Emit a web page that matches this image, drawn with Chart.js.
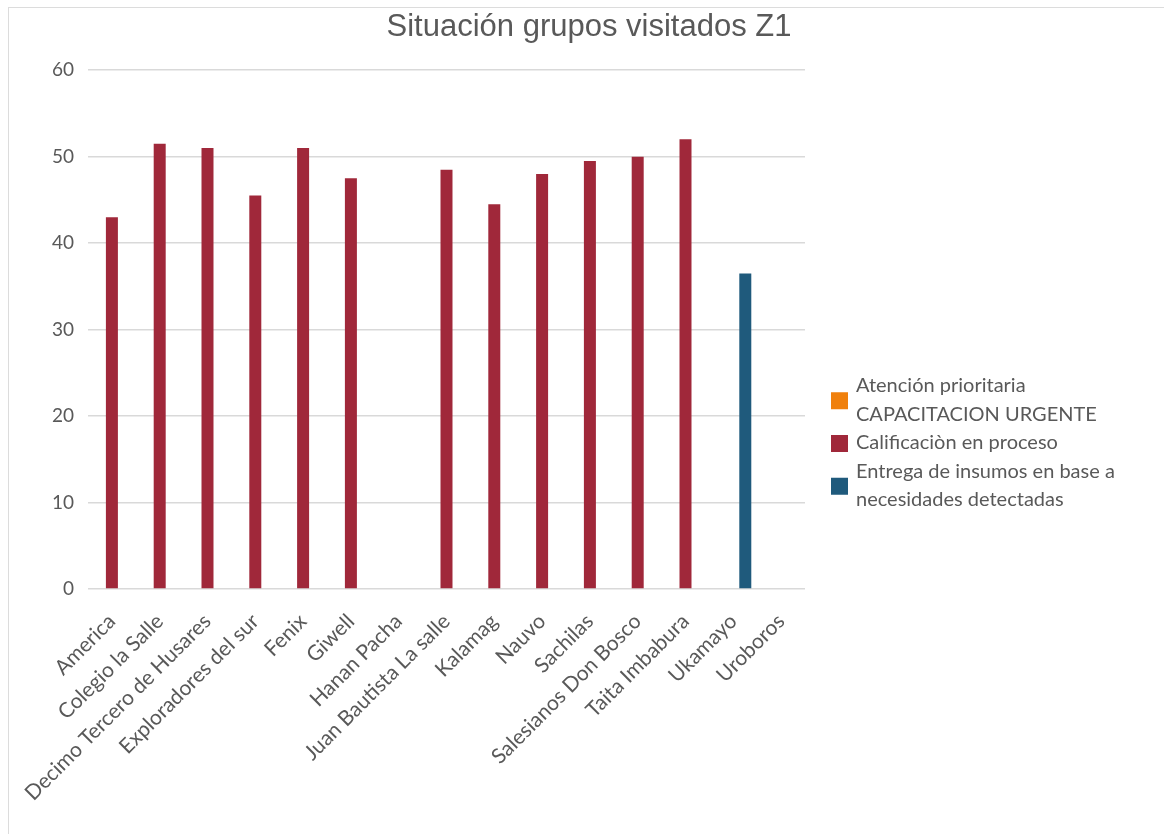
<!DOCTYPE html>
<html>
<head>
<meta charset="utf-8">
<script src="https://cdn.jsdelivr.net/npm/chart.js@4"></script>
<style>
  body { margin: 0; background: #fff; }
  #frame { position: absolute; left: 8px; top: 7px; width: 1160px; height: 830px;
           border-left: 1px solid #dcdcdc; border-top: 1px solid #dcdcdc; }
  #wrap { position: absolute; left: 0; top: 0; width: 1164px; height: 834px; }
</style>
</head>
<body>
<div id="frame"></div>
<div id="wrap"><canvas id="barChart"></canvas></div>
<script>
const categories = ['America', 'Colegio la Salle', 'Decimo Tercero de Husares', 'Exploradores del sur',
    'Fenix', 'Giwell', 'Hanan Pacha', 'Juan Bautista La salle', 'Kalamag', 'Nauvo', 'Sachilas',
    'Salesianos Don Bosco', 'Taita Imbabura', 'Ukamayo', 'Uroboros'];
const urgente = [null, null, null, null, null, null, null, null, null, null, null, null, null, null, null];
const enProceso = [43, 51.5, 51, 45.5, 51, 47.5, null, 48.5, 44.5, 48, 49.5, 50, 52, null, null];
const insumos = [null, null, null, null, null, null, null, null, null, null, null, null, null, 36.5, null];
const seriesLabels = [
    ['Atención prioritaria', 'CAPACITACION URGENTE'],
    ['Calificaciòn en proceso'],
    ['Entrega de insumos en base a', 'necesidades detectadas']
];
const yTicks = [0, 10, 20, 30, 40, 50, 60];

const textGray = '#595959';
const font = "Lato, 'Open Sans', sans-serif";

// legend drawn by hand so labels can wrap on two lines like the original
const sideLegend = {
    id: 'sideLegend',
    afterDraw(chart) {
        const { ctx, chartArea } = chart;
        const boxX = chartArea.right + 26;
        const textX = boxX + 25;
        const lineH = 28.5;
        let y = 386;
        ctx.save();
        ctx.font = '20px ' + font;
        ctx.textBaseline = 'middle';
        chart.data.datasets.forEach((ds, i) => {
            const lines = seriesLabels[i];
            const mid = y + (lines.length - 1) * lineH / 2;
            ctx.fillStyle = ds.backgroundColor;
            ctx.fillRect(boxX, mid - 8, 17, 17);
            ctx.fillStyle = textGray;
            lines.forEach((t, k) => ctx.fillText(t, textX, y + k * lineH));
            y += lines.length * lineH;
        });
        ctx.restore();
    }
};

const ctx = document.getElementById('barChart').getContext('2d');
new Chart(ctx, {
    type: 'bar',
    data: {
        labels: categories,
        datasets: [
            { label: seriesLabels[0].join(' '), data: urgente, backgroundColor: '#f0800c' },
            { label: seriesLabels[1].join(' '), data: enProceso, backgroundColor: '#a0283a' },
            { label: seriesLabels[2].join(' '), data: insumos, backgroundColor: '#1f5a7c' }
        ]
    },
    options: {
        responsive: true,
        maintainAspectRatio: false,
        animation: false,
        datasets: { bar: { categoryPercentage: 0.753, barPercentage: 1 } },
        layout: { padding: { left: 14, right: 0, top: 0, bottom: 0 } },
        plugins: {
            legend: { display: false },
            tooltip: { enabled: false },
            title: {
                display: true,
                text: 'Situación grupos visitados Z1',
                color: textGray,
                font: { family: "'Liberation Sans Narrow', 'Arial Narrow', 'Liberation Sans', sans-serif", size: 31, weight: 'normal' },
                padding: { top: 9, bottom: 24 }
            }
        },
        scales: {
            x: {
                grid: { display: false },
                border: { display: false },
                ticks: {
                    color: textGray, font: { family: font, size: 21 },
                    minRotation: 45, maxRotation: 45, autoSkip: false, padding: 12
                },
                afterFit: s => { s.height = 245; }
            },
            y: {
                min: 0, max: 60,
                afterBuildTicks: s => { s.ticks = yTicks.map(v => ({ value: v })); },
                grid: { color: '#d9d9d9', lineWidth: 1.5, drawTicks: false },
                border: { display: false },
                ticks: { color: textGray, font: { family: font, size: 19 }, padding: 14 },
                afterFit: s => { s.width = 74; }
            },
            // empty axis on the right only to keep room for the legend
            side: {
                type: 'linear', position: 'right',
                grid: { display: false }, border: { display: false },
                ticks: { display: false },
                afterFit: s => { s.width = 359; }
            }
        }
    },
    plugins: [sideLegend]
});
</script>
</body>
</html>
